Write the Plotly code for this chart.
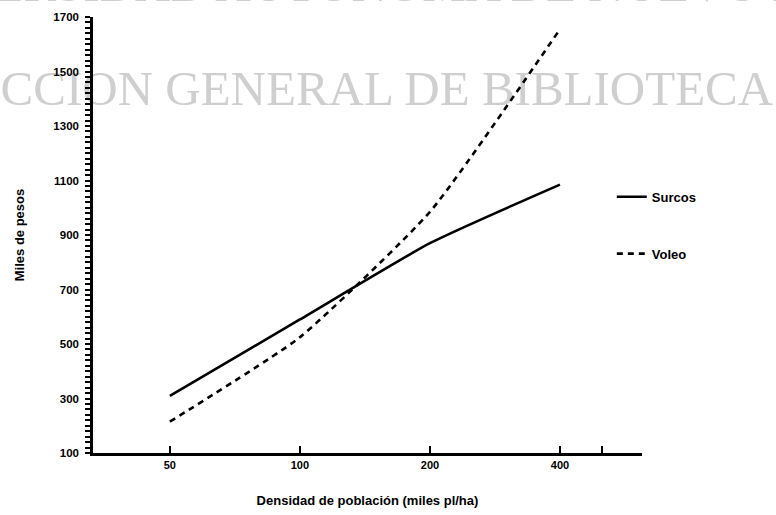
import plotly.graph_objects as go

# Data
densidad = [50, 100, 200, 400]
surcos = [310, 590, 870, 1085]
voleo = [215, 525, 985, 1655]

x_tickvals = [50, 100, 200, 400, 500]
x_ticktext = ["50", "100", "200", "400", ""]

y_labels = [100, 300, 500, 700, 900, 1100, 1300, 1500, 1700]
y_tickvals = list(range(100, 1701, 20))           # comb of small ticks
y_ticktext = [str(v) if v in y_labels else "" for v in y_tickvals]

WM = "#cfcfcf"
fig = go.Figure()

# scan watermark (drawn beneath the lines)
fig.add_trace(go.Scatter(
    x=[159], y=[1423], mode="text", text=["CCION GENERAL DE BIBLIOTECA"],
    textfont=dict(family="Liberation Serif", size=49, color=WM),
    cliponaxis=False, showlegend=False, hoverinfo="skip"))

fig.add_trace(go.Scatter(
    x=densidad, y=surcos, mode="lines", name="Surcos", legendgroup="a",
    line=dict(color="black", width=2.6, shape="spline", smoothing=0.5)))
fig.add_trace(go.Scatter(
    x=densidad, y=voleo, mode="lines", name="Voleo", legendgroup="b",
    line=dict(color="black", width=2.6, dash="6px,5px", shape="spline", smoothing=0.5)))

bold = dict(family="Liberation Sans", color="black", weight="bold")
fig.update_layout(
    width=776, height=515,
    margin=dict(l=93, r=134, t=17, b=62),
    paper_bgcolor="white", plot_bgcolor="white",
    showlegend=True,
    legend=dict(x=0.945, y=0.622, xanchor="left", yanchor="top",
                bgcolor="rgba(0,0,0,0)", tracegroupgap=37,
                font=dict(size=13, **bold)),
    annotations=[dict(
        text="UNIVERSIDAD AUTÓNOMA DE NUEVO LEÓN", xref="paper", yref="paper",
        x=0.5355, y=1.075, xanchor="center", yanchor="middle", showarrow=False,
        font=dict(family="Liberation Serif", size=49, color=WM))],
    xaxis=dict(
        type="log", range=[1.521, 2.792], automargin=False,
        tickvals=x_tickvals, ticktext=x_ticktext,
        ticks="inside", ticklen=7, tickwidth=2, tickcolor="black",
        showline=True, linecolor="black", linewidth=2.5,
        showgrid=False, zeroline=False,
        tickfont=dict(size=11, **bold),
        title=dict(text="Densidad de población (miles pl/ha)",
                   font=dict(size=13, **bold), standoff=26),
    ),
    yaxis=dict(
        range=[100, 1700], automargin=False,
        tickmode="array", tickvals=y_tickvals, ticktext=y_ticktext,
        ticks="outside", ticklen=5, tickwidth=1.6, tickcolor="black",
        ticklabelstandoff=4,
        showline=True, linecolor="black", linewidth=2.5,
        showgrid=False, zeroline=False,
        tickfont=dict(size=11.5, **bold),
        title=dict(text="Miles de pesos",
                   font=dict(size=13, **bold), standoff=26),
    ),
)

fig.write_html("out.html", config={"displayModeBar": False},
               post_script="document.body.style.margin='0px';")
